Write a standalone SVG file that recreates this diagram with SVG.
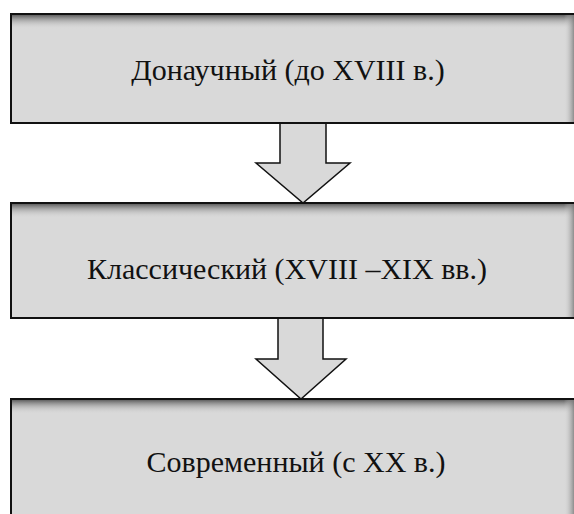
<svg xmlns="http://www.w3.org/2000/svg" width="574" height="514" viewBox="0 0 574 514">
  <defs>
    <!-- inner shading along the top edge of each stage box -->
    <linearGradient id="topShade" x1="0" y1="0" x2="0" y2="1">
      <stop offset="0" stop-color="#5a5a5a" stop-opacity="0.95"/>
      <stop offset="0.5" stop-color="#a0a0a0" stop-opacity="0.5"/>
      <stop offset="1" stop-color="#d9d9d9" stop-opacity="0"/>
    </linearGradient>
    <!-- inner shading along the right edge -->
    <linearGradient id="rightShade" x1="0" y1="0" x2="1" y2="0">
      <stop offset="0" stop-color="#d9d9d9" stop-opacity="0"/>
      <stop offset="1" stop-color="#7a7a7a" stop-opacity="0.8"/>
    </linearGradient>
  </defs>
  <style>
    .box { fill: #d9d9d9; stroke: #111; stroke-width: 2; }
    .arrow { fill: #d9d9d9; stroke: #111; stroke-width: 1.5; stroke-linejoin: miter; }
    .label { font-family: "Liberation Serif", "Times New Roman", serif; font-size: 30px; fill: #111; text-anchor: middle; }
  </style>

  <rect width="574" height="514" fill="#ffffff"/>

  <!-- block arrows between stages -->
  <g id="connectors">
    <polygon class="arrow" points="280,123 326,123 326,163 350,163 303,203 256,163 280,163"/>
    <polygon class="arrow" points="278,318 323,318 323,359 346,359 301,399 256,359 278,359"/>
  </g>

  <g id="stage-prescientific">
    <rect class="box" x="11" y="14" width="570" height="109"/>
    <rect x="12" y="15" width="568" height="14" fill="url(#topShade)"/>
    <rect x="564" y="15" width="10" height="107" fill="url(#rightShade)"/>
    <text class="label" x="288" y="80">Донаучный (до XVIII в.)</text>
  </g>

  <g id="stage-classical">
    <rect class="box" x="11" y="203" width="570" height="115"/>
    <rect x="12" y="204" width="568" height="14" fill="url(#topShade)"/>
    <rect x="564" y="204" width="10" height="113" fill="url(#rightShade)"/>
    <text class="label" x="287" y="279">Классический (XVIII –XIX вв.)</text>
  </g>

  <g id="stage-modern">
    <rect class="box" x="11" y="399" width="570" height="130"/>
    <rect x="12" y="400" width="568" height="14" fill="url(#topShade)"/>
    <rect x="564" y="400" width="10" height="114" fill="url(#rightShade)"/>
    <text class="label" x="296" y="472">Современный (с XX в.)</text>
  </g>
</svg>
